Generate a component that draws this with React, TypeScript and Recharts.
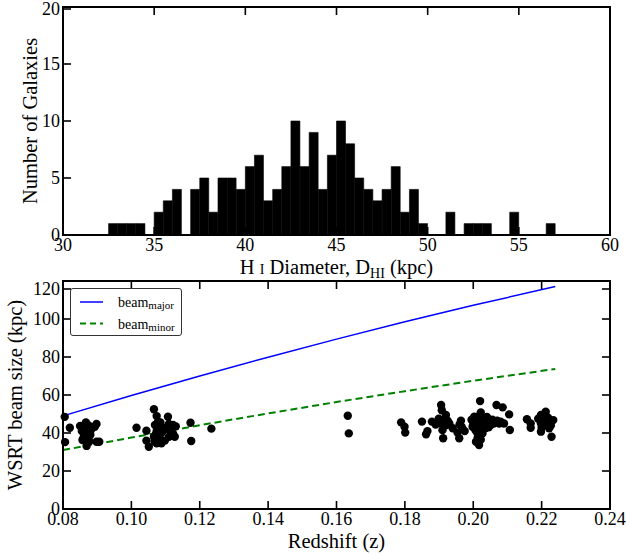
import React from 'react';
import { ComposedChart, Bar, Line, Scatter, XAxis, YAxis } from 'recharts';

const FONT = '"Liberation Serif", "Times New Roman", Times, serif';

// ---------- Histogram (top panel) ----------
const binStarts = [
  30.0, 30.5, 31.0, 31.5, 32.0, 32.5, 33.0, 33.5, 34.0, 34.5,
  35.0, 35.5, 36.0, 36.5, 37.0, 37.5, 38.0, 38.5, 39.0, 39.5,
  40.0, 40.5, 41.0, 41.5, 42.0, 42.5, 43.0, 43.5, 44.0, 44.5,
  45.0, 45.5, 46.0, 46.5, 47.0, 47.5, 48.0, 48.5, 49.0, 49.5,
  50.0, 50.5, 51.0, 51.5, 52.0, 52.5, 53.0, 53.5, 54.0, 54.5,
  55.0, 55.5, 56.0, 56.5, 57.0, 57.5, 58.0, 58.5, 59.0, 59.5,
];
const galaxyCounts = [
  0, 0, 0, 0, 0, 1, 1, 1, 1, 0,
  2, 3, 4, 0, 4, 5, 2, 5, 5, 4,
  6, 7, 3, 4, 6, 10, 6, 9, 4, 7,
  10, 8, 5, 4, 3, 4, 6, 2, 4, 1,
  0, 0, 2, 0, 1, 1, 1, 0, 0, 2,
  0, 0, 0, 1, 0, 0, 0, 0, 0, 0,
];
const histXTicks = [30, 35, 40, 45, 50, 55, 60];
const histYTicks = [0, 5, 10, 15, 20];

// ---------- Beam size vs redshift (bottom panel) ----------
const beamZ = [0.08, 0.10, 0.12, 0.14, 0.16, 0.18, 0.20, 0.224];
const beamMajor = [49.0, 59.7, 70.0, 79.9, 89.4, 98.5, 107.2, 117.1];
const beamMinor = [31.0, 37.6, 44.1, 50.3, 56.3, 62.0, 67.5, 73.7];

const galaxyZ = [
  0.0805, 0.0806, 0.0820, 0.0850, 0.0855, 0.0857, 0.0862, 0.0867, 0.0869, 0.0871,
  0.0874, 0.0877, 0.0880, 0.0883, 0.0866, 0.0893, 0.0898, 0.0898, 0.0906, 0.0860,
  0.0875,
  0.1015, 0.1044, 0.1044, 0.1051, 0.1066, 0.1074, 0.1078, 0.1069, 0.1074, 0.1066,
  0.1078, 0.1074, 0.1088, 0.1098, 0.1107, 0.1110, 0.1103, 0.1122, 0.1122, 0.1110,
  0.1127, 0.1088, 0.1173, 0.1175, 0.1234, 0.1080, 0.1072, 0.1095, 0.1115, 0.1085,
  0.1068, 0.1082, 0.1130,
  0.1633, 0.1636,
  0.1789, 0.1799, 0.1801, 0.1850, 0.1862, 0.1866, 0.1879, 0.1906, 0.1908, 0.1920,
  0.1899, 0.1906, 0.1920, 0.1930, 0.1910, 0.1912, 0.1954, 0.1959, 0.1964, 0.1966,
  0.1969, 0.1895, 0.1915, 0.1925, 0.1890, 0.1960, 0.1975, 0.1940,
  0.2003, 0.2008, 0.2017, 0.2020, 0.2022, 0.2022, 0.2008, 0.2027, 0.2017, 0.2027,
  0.1998, 0.2031, 0.2036, 0.2046, 0.2056, 0.2068, 0.2086, 0.2076, 0.2080, 0.2105,
  0.2107, 0.2012, 0.2015, 0.2025, 0.2000, 0.2030, 0.2010, 0.2020, 0.2035, 0.2040,
  0.2005, 0.2018, 0.2050, 0.2060, 0.2070, 0.2090, 0.2022, 0.2013, 0.1995, 0.2045,
  0.2028, 0.2000,
  0.2157, 0.2168, 0.2168, 0.2198, 0.2212, 0.2198, 0.2200, 0.2198, 0.2219, 0.2234,
  0.2222, 0.2229, 0.2205, 0.2215, 0.2227, 0.2190,
];
const galaxySize = [
  48.5, 35.2, 42.8, 43.7, 41.0, 36.3, 39.0, 45.6, 33.2, 39.8,
  37.2, 35.5, 39.0, 42.0, 42.5, 43.3, 44.7, 35.4, 35.4, 37.5,
  44.0,
  42.8, 41.2, 36.0, 32.8, 52.5, 48.9, 46.0, 44.2, 41.0, 38.0,
  37.2, 34.6, 34.6, 36.0, 48.6, 44.7, 43.0, 44.2, 39.6, 38.0,
  38.0, 40.0, 45.4, 35.8, 42.3, 43.5, 39.5, 41.5, 41.0, 45.5,
  35.5, 37.0, 43.5,
  49.1, 39.8,
  45.6, 43.3, 40.2, 46.0, 39.3, 41.0, 46.0, 54.7, 52.0, 49.5,
  47.5, 45.1, 44.0, 45.0, 41.5, 37.2, 40.2, 37.2, 46.5, 43.3,
  42.0, 45.5, 47.0, 46.5, 44.5, 44.5, 41.0, 42.5,
  48.6, 35.4, 33.7, 56.8, 50.8, 46.0, 45.0, 43.3, 41.8, 39.8,
  43.3, 47.5, 45.0, 46.5, 47.0, 54.7, 53.5, 45.0, 46.0, 49.8,
  41.6, 44.0, 47.0, 42.0, 46.5, 44.5, 40.5, 38.5, 42.5, 48.5,
  42.0, 49.0, 44.0, 45.0, 46.5, 45.0, 36.5, 37.5, 47.0, 43.0,
  47.5, 44.5,
  47.2, 45.0, 42.8, 49.5, 51.2, 45.0, 42.7, 40.7, 48.0, 46.8,
  42.5, 38.0, 46.5, 44.5, 44.0, 47.5,
];
const zTicks = [0.08, 0.10, 0.12, 0.14, 0.16, 0.18, 0.20, 0.22, 0.24];
const beamTicks = [0, 20, 40, 60, 80, 100, 120];

const histData = binStarts.map((b, i) => ({ bin: b, count: galaxyCounts[i] }));
const majorData = beamZ.map((z, i) => ({ z, v: beamMajor[i] }));
const minorData = beamZ.map((z, i) => ({ z, v: beamMinor[i] }));
const galaxyData = galaxyZ.map((z, i) => ({ z, v: galaxySize[i] }));

// ---------- layout (plot areas) ----------
const PLOT_LEFT = 63;
const PLOT_RIGHT = 610;
const TOP1 = 7;
const BOTTOM1 = 235;
const TOP2 = 281;
const BOTTOM2 = 509;

// ---------- inward tick marks drawn as filled slivers at the axis tick positions ----------
const TL = 8;
const TW = 1.6;

const histBottomTick = (p: any) => (
  <g>
    <rect x={p.x - TW / 2} y={p.y - TL} width={TW} height={TL} fill="#000" />
    <text x={p.x} y={p.y + 16} textAnchor="middle" fontSize={18} fontFamily={FONT} fill="#000">{String(p.payload.value)}</text>
  </g>
);
const zBottomTick = (p: any) => (
  <g>
    <rect x={p.x - TW / 2} y={p.y - TL} width={TW} height={TL} fill="#000" />
    <text x={p.x} y={p.y + 16} textAnchor="middle" fontSize={18} fontFamily={FONT} fill="#000">{Number(p.payload.value).toFixed(2)}</text>
  </g>
);
const topTick = (p: any) => (
  <g>
    <rect x={p.x - TW / 2} y={p.y} width={TW} height={TL} fill="#000" />
  </g>
);
const leftTick = (p: any) => (
  <g>
    <rect x={p.x} y={p.y - TW / 2} width={TL} height={TW} fill="#000" />
    <text x={p.x - 3} y={p.y + 6} textAnchor="end" fontSize={18} fontFamily={FONT} fill="#000">{String(p.payload.value)}</text>
  </g>
);
const rightTick = (p: any) => (
  <g>
    <rect x={p.x - TL} y={p.y - TW / 2} width={TL} height={TW} fill="#000" />
  </g>
);

const dot = (p: any) => <circle cx={p.cx} cy={p.cy} r={4.2} fill="#000" />;

function PlotFrame({ top, bottom }: { top: number; bottom: number }) {
  return (
    <div
      style={{
        position: 'absolute',
        left: PLOT_LEFT - 1,
        top: top - 1,
        width: PLOT_RIGHT - PLOT_LEFT + 2,
        height: bottom - top + 2,
        border: '2px solid #000',
        boxSizing: 'border-box',
        pointerEvents: 'none',
      }}
    />
  );
}

function Titles() {
  return (
    <svg width={626} height={554} style={{ position: 'absolute', left: 0, top: 0, pointerEvents: 'none' }}>
      <text x={336.5} y={274} textAnchor="middle" fontSize={20.5} fontFamily={FONT} fill="#000">
        H <tspan fontSize={14}>I</tspan> Diameter, D<tspan fontSize={14} dy={4}>HI</tspan>
        <tspan dy={-4}> (kpc)</tspan>
      </text>
      <text transform="translate(37, 121) rotate(-90)" textAnchor="middle" fontSize={20.5} fontFamily={FONT} fill="#000">
        Number of Galaxies
      </text>
      <text x={336.5} y={548} textAnchor="middle" fontSize={20.5} fontFamily={FONT} fill="#000">
        Redshift (z)
      </text>
      <text transform="translate(22, 395) rotate(-90)" textAnchor="middle" fontSize={20.5} fontFamily={FONT} fill="#000">
        WSRT beam size (kpc)
      </text>
    </svg>
  );
}

function BeamLegend() {
  return (
    <div style={{ position: 'absolute', left: 70, top: 288, width: 112, height: 48, border: '1px solid #333', borderRadius: 3, background: '#fff', boxSizing: 'border-box' }}>
      <svg width={110} height={46} style={{ display: 'block' }}>
        <path d="M9,13L32,13" stroke="#0000ff" strokeWidth={1.5} />
        <text x={47} y={18} fontSize={14} fontFamily={FONT} fill="#000">
          beam<tspan fontSize={11} dy={2}>major</tspan>
        </text>
        <path d="M9,34.5L32,34.5" stroke="#008000" strokeWidth={2} strokeDasharray="6 4" />
        <text x={47} y={39.5} fontSize={14} fontFamily={FONT} fill="#000">
          beam<tspan fontSize={11} dy={2}>minor</tspan>
        </text>
      </svg>
    </div>
  );
}

export default function App() {
  return (
    <div style={{ position: 'absolute', left: 0, top: 0, width: 626, height: 554 }}>
      <div style={{ position: 'absolute', left: 0, top: 0 }}>
        <ComposedChart
          width={626}
          height={280}
          data={histData}
          margin={{ top: TOP1 - 1, right: 626 - PLOT_RIGHT - 1, bottom: 0, left: PLOT_LEFT - 60 }}
          barCategoryGap={0}
          barGap={0}
        >
          <XAxis xAxisId="num" dataKey="bin" type="number" domain={[30, 60]} ticks={histXTicks}
            height={280 - BOTTOM1} tickSize={0} tickMargin={0} tickLine={false} axisLine={false} tick={histBottomTick} />
          <XAxis xAxisId="top" orientation="top" dataKey="bin" type="number" domain={[30, 60]} ticks={histXTicks}
            height={1} tickSize={0} tickMargin={0} tickLine={false} axisLine={false} tick={topTick} />
          <XAxis xAxisId="bins" dataKey="bin" type="category" hide height={0} />
          <YAxis yAxisId="left" domain={[0, 20]} ticks={histYTicks} width={60}
            tickSize={0} tickMargin={0} tickLine={false} axisLine={false} tick={leftTick} />
          <YAxis yAxisId="right" orientation="right" domain={[0, 20]} ticks={histYTicks} width={1}
            tickSize={0} tickMargin={0} tickLine={false} axisLine={false} tick={rightTick} />
          <Bar xAxisId="bins" yAxisId="left" dataKey="count" fill="#000" stroke="#000" strokeWidth={0.6} isAnimationActive={false} />
        </ComposedChart>
      </div>
      <div style={{ position: 'absolute', left: 0, top: 280 }}>
        <ComposedChart
          width={626}
          height={274}
          data={galaxyData}
          margin={{ top: TOP2 - 280 - 1, right: 626 - PLOT_RIGHT - 1, bottom: 0, left: PLOT_LEFT - 60 }}
        >
          <XAxis xAxisId="num" dataKey="z" type="number" domain={[0.08, 0.24]} ticks={zTicks}
            height={554 - BOTTOM2} tickSize={0} tickMargin={0} tickLine={false} axisLine={false} tick={zBottomTick} />
          <XAxis xAxisId="top" orientation="top" dataKey="z" type="number" domain={[0.08, 0.24]} ticks={zTicks}
            height={1} tickSize={0} tickMargin={0} tickLine={false} axisLine={false} tick={topTick} />
          <YAxis yAxisId="left" dataKey="v" domain={[0, 120]} ticks={beamTicks} width={60}
            tickSize={0} tickMargin={0} tickLine={false} axisLine={false} tick={leftTick} />
          <YAxis yAxisId="right" orientation="right" dataKey="v" domain={[0, 120]} ticks={beamTicks} width={1}
            tickSize={0} tickMargin={0} tickLine={false} axisLine={false} tick={rightTick} />
          <Line xAxisId="num" yAxisId="left" data={majorData} dataKey="v" type="linear" stroke="#0000ff"
            strokeWidth={1.5} dot={false} isAnimationActive={false} />
          <Line xAxisId="num" yAxisId="left" data={minorData} dataKey="v" type="linear" stroke="#008000"
            strokeWidth={2} strokeDasharray="7 4" dot={false} isAnimationActive={false} />
          <Scatter xAxisId="num" yAxisId="left" data={galaxyData} dataKey="v" fill="#000" shape={dot} isAnimationActive={false} />
        </ComposedChart>
      </div>
      <PlotFrame top={TOP1} bottom={BOTTOM1} />
      <PlotFrame top={TOP2} bottom={BOTTOM2} />
      <BeamLegend />
      <Titles />
    </div>
  );
}
